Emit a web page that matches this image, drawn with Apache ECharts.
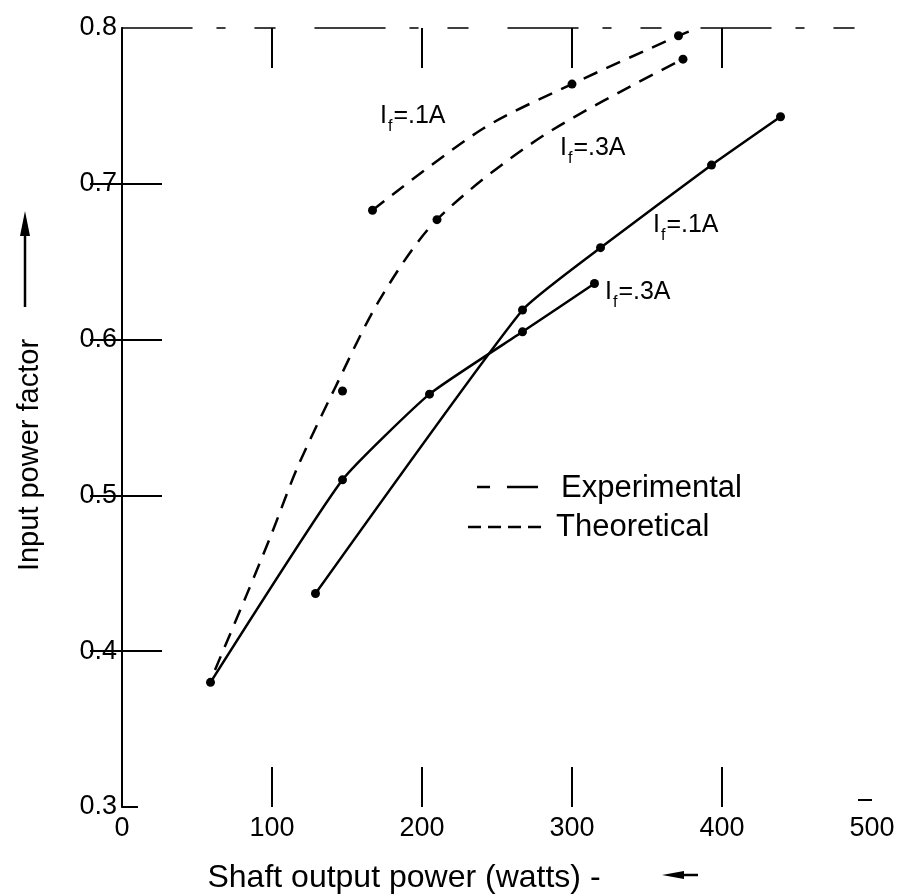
<!DOCTYPE html>
<html><head><meta charset="utf-8">
<script src="https://cdn.jsdelivr.net/npm/echarts@6/dist/echarts.min.js"></script>
<style>html,body{margin:0;padding:0;background:#fff}#c{width:903px;height:895px}</style>
</head><body><div id="c"></div>
<script>
// ---- data ----
const xTickValues = [0, 100, 200, 300, 400, 500];
const yTickValues = [0.3, 0.4, 0.5, 0.6, 0.7, 0.8];
const innerXTicks = [100, 200, 300, 400];
const innerYTicks = [0.4, 0.5, 0.6, 0.7];
// Experimental (solid) curves, points on the curves
const expA1 = [[129, 0.437], [267, 0.619], [319, 0.659], [393, 0.712], [439, 0.743]];
const expA3 = [[59, 0.380], [147, 0.510], [205, 0.565], [267, 0.605], [315, 0.636]];
// Theoretical (dashed) curves
const theoA1Curve = [[167, 0.683], [240, 0.735], [300, 0.764], [371, 0.795], [384, 0.800]];
const theoA3Curve = [[62, 0.388], [83, 0.436], [100, 0.476], [117, 0.518], [141, 0.567], [172, 0.626], [210, 0.677], [281, 0.731], [374, 0.780]];
// Theoretical plotted points
const theoA1Pts = [[167, 0.683], [300, 0.764], [371, 0.795]];
const theoA3Pts = [[147, 0.567], [210, 0.677], [374, 0.780]];
const curveTags = ['=.1A', '=.3A', '=.1A', '=.3A'];
const legendNames = ['Experimental', 'Theoretical'];
const xName = 'Shaft output power (watts) -';
const yName = 'Input power factor';

const FONT = '"Liberation Sans", Arial, sans-serif';
const chart = echarts.init(document.getElementById('c'), null, {renderer: 'canvas'});

function lineSeries(name, arr, dashed, marked) {
  return {
    type: 'line', name: name, data: arr, smooth: dashed ? 0.3 : 0.15,
    symbol: marked ? 'circle' : 'none', symbolSize: 9, itemStyle: {color: '#000', opacity: 1},
    lineStyle: {color: '#000', width: 2.5, type: dashed ? [15, 10] : 'solid'},
    clip: true, z: 3, animation: false
  };
}
function pointSeries(name, arr) {
  return {type: 'scatter', name: name, data: arr, symbol: 'circle', symbolSize: 9,
          itemStyle: {color: '#000', opacity: 1}, z: 4, animation: false};
}
function tag(x, y, t) {
  return {
    type: 'text', x: x, y: y,
    style: {
      text: '{a|I}{b|f}{c|' + t + '}', verticalAlign: 'middle',
      rich: {
        a: {fontSize: 25, fontFamily: FONT, fill: '#000', verticalAlign: 'bottom'},
        b: {fontSize: 16, fontFamily: FONT, fill: '#000', verticalAlign: 'bottom', padding: [0, 1, -6, 1]},
        c: {fontSize: 25, fontFamily: FONT, fill: '#000', verticalAlign: 'bottom'}
      }
    }
  };
}
const blk = {stroke: '#000', lineWidth: 2.5};

const option = {
  backgroundColor: '#fff',
  animation: false,
  grid: {left: 122, right: 31, top: 28, bottom: 88, containLabel: false},
  xAxis: [
    {type: 'value', position: 'bottom', min: 0, max: 500, interval: 100,
     axisLine: {show: false},
     axisTick: {show: true, inside: true, length: 40, customValues: innerXTicks, lineStyle: {color: '#000', width: 2}},
     axisLabel: {show: true, fontSize: 27, fontFamily: FONT, color: '#000', margin: 8, customValues: xTickValues},
     splitLine: {show: false}},
    {type: 'value', position: 'top', min: 0, max: 500, interval: 100,
     axisLine: {show: true, lineStyle: {color: '#000', width: 1.5, type: [70, 25, 8, 30, 20, 40]}},
     axisTick: {show: true, inside: true, length: 40, customValues: innerXTicks, lineStyle: {color: '#000', width: 2}},
     axisLabel: {show: false}, splitLine: {show: false}}
  ],
  yAxis: [
    {type: 'value', position: 'left', min: 0.3, max: 0.8, interval: 0.1,
     axisLine: {show: true, lineStyle: {color: '#000', width: 2}},
     axisTick: {show: true, inside: true, length: 40, customValues: innerYTicks, lineStyle: {color: '#000', width: 2}},
     axisLabel: {show: true, fontSize: 27, fontFamily: FONT, color: '#000', margin: 5,
                 customValues: yTickValues, formatter: v => v.toFixed(1)},
     splitLine: {show: false}},
    {type: 'value', position: 'right', min: 0.3, max: 0.8, interval: 0.1,
     axisLine: {show: true, lineStyle: {color: '#000', width: 1.5, type: [35, 70]}},
     axisTick: {show: true, inside: true, length: 32, customValues: innerYTicks, lineStyle: {color: '#000', width: 2}},
     axisLabel: {show: false}, splitLine: {show: false}}
  ],
  series: [
    lineSeries('Experimental If=.1A', expA1, false, true),
    lineSeries('Experimental If=.3A', expA3, false, true),
    lineSeries('Theoretical If=.1A', theoA1Curve, true, false),
    lineSeries('Theoretical If=.3A', theoA3Curve, true, false),
    pointSeries('Theoretical If=.1A points', theoA1Pts),
    pointSeries('Theoretical If=.3A points', theoA3Pts)
  ],
  graphic: [
    // curve tags
    tag(380, 116, curveTags[0]),
    tag(560, 148, curveTags[1]),
    tag(653, 225, curveTags[2]),
    tag(605, 292, curveTags[3]),
    // legend
    {type: 'line', shape: {x1: 477, y1: 487, x2: 490, y2: 487}, style: blk},
    {type: 'line', shape: {x1: 507, y1: 487, x2: 538, y2: 487}, style: blk},
    {type: 'text', x: 561, y: 488, style: {text: legendNames[0], fontSize: 31, fontFamily: FONT, fill: '#000', verticalAlign: 'middle'}},
    {type: 'line', shape: {x1: 468, y1: 527, x2: 542, y2: 527}, style: {stroke: '#000', lineWidth: 2.5, lineDash: [13, 7]}},
    {type: 'text', x: 556, y: 527, style: {text: legendNames[1], fontSize: 31, fontFamily: FONT, fill: '#000', verticalAlign: 'middle'}},
    // axis names
    {type: 'text', x: 30, y: 455, rotation: Math.PI / 2,
     style: {text: yName, fontSize: 29, fontFamily: FONT, fill: '#000', align: 'center', verticalAlign: 'middle'}},
    {type: 'line', shape: {x1: 25, y1: 307, x2: 25, y2: 228}, style: blk},
    {type: 'polygon', shape: {points: [[25, 211], [20, 236], [30, 236]]}, style: {fill: '#000'}},
    {type: 'text', x: 404, y: 878,
     style: {text: xName, fontSize: 32, fontFamily: FONT, fill: '#000', align: 'center', verticalAlign: 'middle'}},
    {type: 'polygon', shape: {points: [[662, 875], [684, 871], [684, 879]]}, style: {fill: '#000'}},
    {type: 'line', shape: {x1: 684, y1: 875, x2: 698, y2: 875}, style: blk},
    // short corner marks of the frame
    {type: 'line', shape: {x1: 122, y1: 807, x2: 138, y2: 807}, style: {stroke: '#000', lineWidth: 2}},
    {type: 'line', shape: {x1: 858, y1: 800, x2: 872, y2: 800}, style: {stroke: '#000', lineWidth: 2}}
  ]
};
chart.setOption(option);
</script>
</body></html>
